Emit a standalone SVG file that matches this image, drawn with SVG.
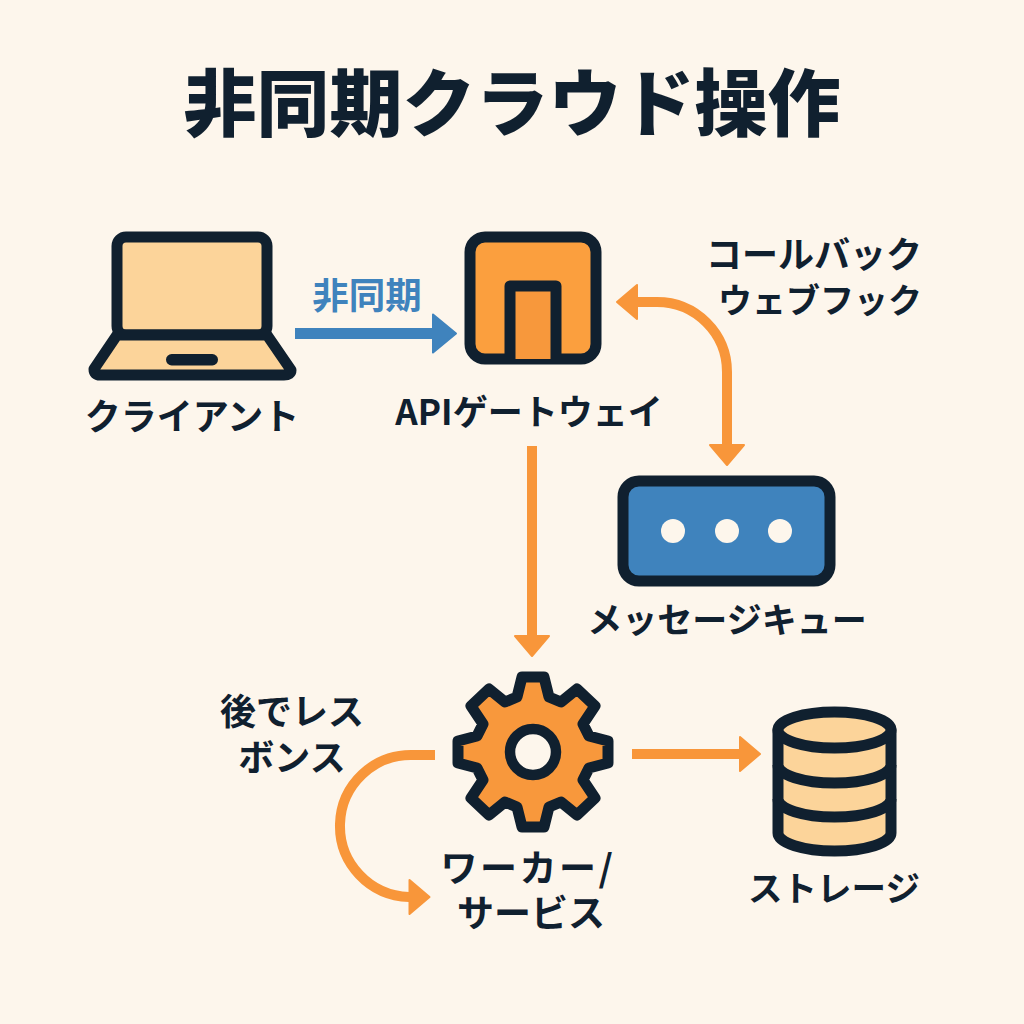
<svg xmlns="http://www.w3.org/2000/svg" width="1024" height="1024" viewBox="0 0 1024 1024">
<style>
text{font-family:"Noto Sans CJK JP","Noto Sans",sans-serif;font-weight:700;fill:#10202f;text-anchor:middle}
.title{font-size:73px;font-weight:900}
.lb{font-size:36px}
.ic{stroke:#10202f;stroke-width:11;stroke-linejoin:round;stroke-linecap:butt}
.o{stroke:#f8963a;stroke-width:10;fill:none}
.sand{fill:#fcd49a}
</style>
<defs>
<marker id="ao" markerUnits="userSpaceOnUse" markerWidth="26" markerHeight="42" refX="2" refY="21" orient="auto-start-reverse"><path d="M2 4L22 21L2 38z" fill="#f8963a" stroke="#f8963a" stroke-width="2" stroke-linejoin="round"/></marker>
<marker id="ab" markerUnits="userSpaceOnUse" markerWidth="30" markerHeight="46" refX="2" refY="23" orient="auto"><path d="M2 4L25 23L2 42z" fill="#3f83bd" stroke="#3f83bd" stroke-width="2" stroke-linejoin="round"/></marker>
</defs>
<rect width="1024" height="1024" fill="#fdf6ec"/>
<text class="title" x="512" y="130">非同期クラウド操作</text>
<g id="client">
<rect class="ic sand" x="117" y="237" width="150" height="98" rx="9"/>
<path class="ic sand" d="M117 335H267L291 370Q291 375 284 375H100Q94 375 94 369Z"/>
<rect x="166" y="354" width="52" height="11.500" rx="5.700" fill="#10202f"/>
<text class="lb" x="192" y="430">クライアント</text>
</g>
<g id="gateway">
<rect class="ic" x="470" y="237" width="126" height="122" rx="15" fill="#fb9f3e"/>
<path class="ic" d="M510 359V286H556V359" fill="#f7983c"/>
<text x="529" y="425" style="font-size:35px">APIゲートウェイ</text>
</g>
<g id="queue">
<rect class="ic" x="623" y="481" width="207" height="100" rx="16" fill="#3f83bd"/>
<circle cx="673" cy="531" r="12" fill="#fdf6ec"/><circle cx="727" cy="531" r="12" fill="#fdf6ec"/><circle cx="780" cy="531" r="12" fill="#fdf6ec"/>
<text x="727" y="633" style="font-size:35px">メッセージキュー</text>
</g>
<g id="worker">
<path class="ic" d="M522 677H544L549 697L561 702L577 689L595 706L583 724L589 736L608 741V763L589 768L583 780L595 798L577 815L561 802L549 807L544 827H522L517 807L505 802L489 815L471 798L483 780L477 768L458 763V741L477 736L483 724L471 706L489 689L505 702L517 697Z" fill="#f8983c"/>
<circle cx="533" cy="752" r="23" fill="#fdf6ec" stroke="#10202f" stroke-width="10.500"/>
<text style="font-size:37px"><tspan x="528" y="882" style="letter-spacing:2.500px">ワーカー/</tspan><tspan x="531" y="927">サービス</tspan></text>
</g>
<g id="storage">
<path class="ic sand" d="M778 730V833A56.500 18 0 0 0 891 833V730Z"/>
<ellipse class="ic sand" cx="834.500" cy="730" rx="56.500" ry="18"/>
<path class="ic" d="M778 765A56.500 18 0 0 0 891 765M778 799A56.500 18 0 0 0 891 799" fill="none"/>
<text x="834" y="901" style="font-size:34.500px">ストレージ</text>
</g>
<g id="connectors">
<path d="M295 333.500H433" stroke="#3f83bd" stroke-width="11" fill="none" marker-end="url(#ab)"/>
<path class="o" d="M637 302H657A70 70 0 0 1 727 372V445" marker-start="url(#ao)" marker-end="url(#ao)"/>
<path class="o" d="M532 446V636" marker-end="url(#ao)"/>
<path class="o" d="M632 754H740" marker-end="url(#ao)"/>
<path class="o" d="M435 755H413A71 71 0 0 0 409 897H409.500" marker-end="url(#ao)"/>
</g>
<g id="labels">
<text x="367" y="309" style="fill:#3f83bd;font-size:36.500px">非同期</text>
<text class="lb" x="814" y="268">コールバック</text>
<text x="820" y="313" style="font-size:34px">ウェブフック</text>
<text class="lb"><tspan x="292" y="725">後でレス</tspan><tspan x="292" y="771">ボンス</tspan></text>
</g>
</svg>
